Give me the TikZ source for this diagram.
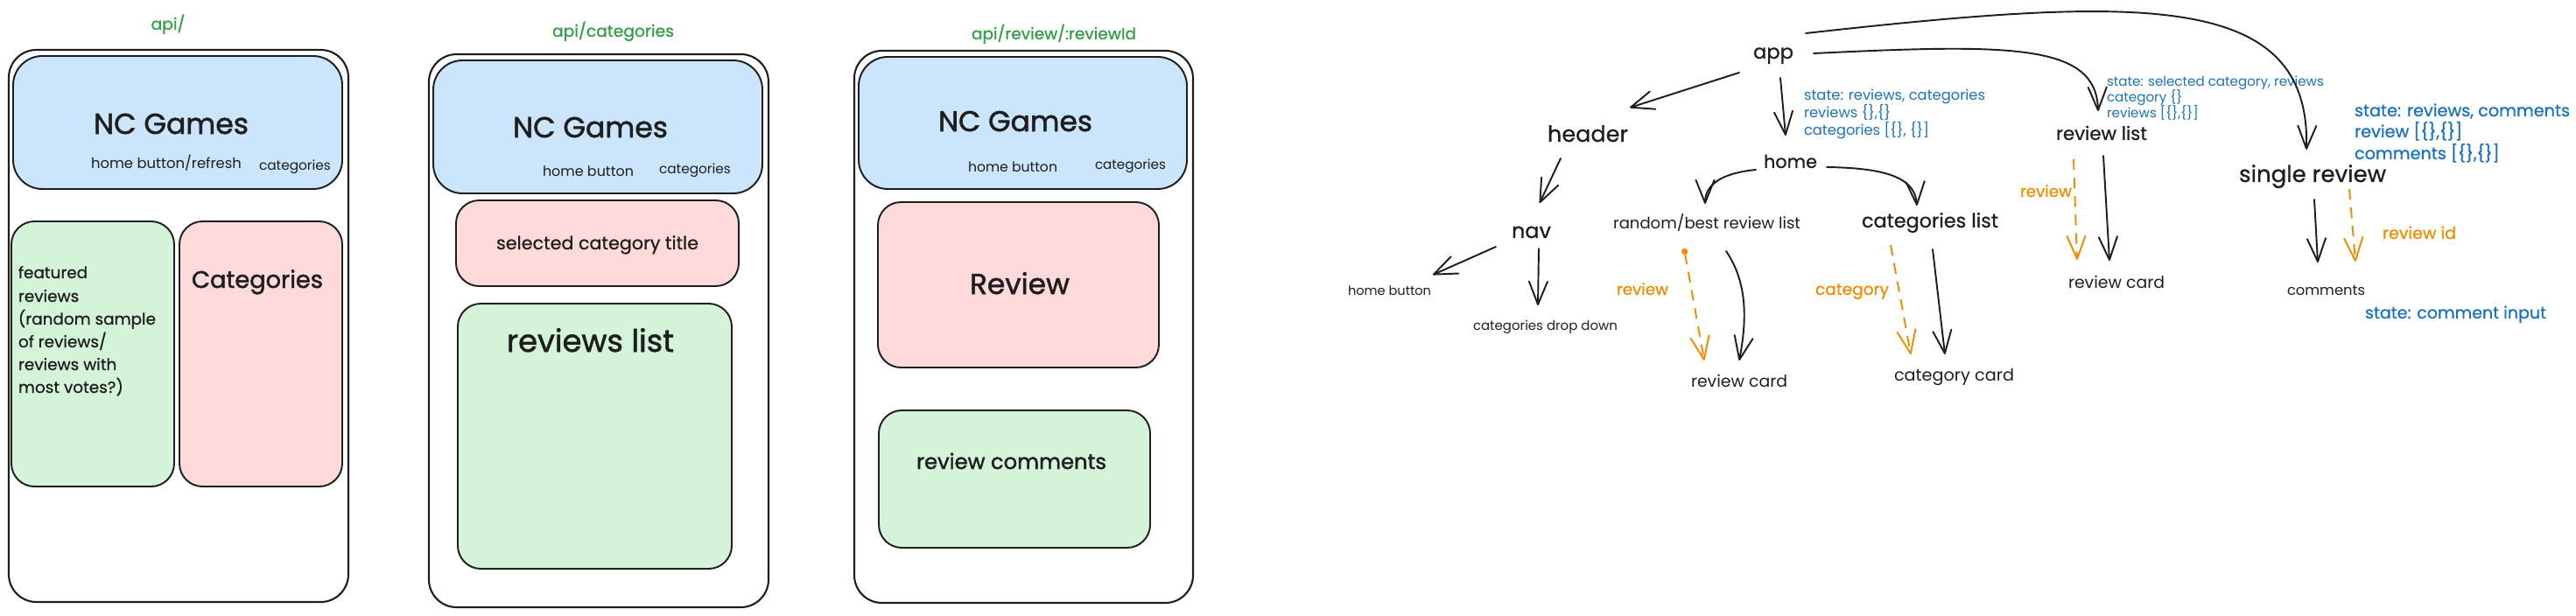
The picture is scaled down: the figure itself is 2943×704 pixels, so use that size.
\documentclass[tikz,border=0pt]{standalone}
\usepackage{fontspec}
\setmainfont{Poppins}
\newfontfamily\heavy[FakeBold=1.6]{Poppins}
\newfontfamily\medw[FakeBold=0.7]{Poppins}
\usetikzlibrary{arrows.meta}
\newlength\px \setlength\px{0.2mm}
\newlength\tmpw
\newcommand\fw[2]{\resizebox{#1\px}{!}{#2}}
% measure a reference line and store in #1 the scale that brings it to #2 px
\newcommand\mksc[3]{\settowidth\tmpw{#3}\pgfmathsetmacro#1{#2*0.569055/\tmpw}}
\definecolor{ink}{HTML}{1E1E1E}
\definecolor{grn}{HTML}{2F9E44}
\definecolor{blu}{HTML}{1971C2}
\definecolor{org}{HTML}{F08C00}
\definecolor{bfill}{HTML}{CBE6FC}
\definecolor{rfill}{HTML}{FFDADA}
\definecolor{gfill}{HTML}{D4F4DA}
\begin{document}
\mksc{\scA}{139}{api/categories}%
\mksc{\scF}{157}{(random sample}%
\mksc{\scB}{207}{state: reviews, categories}%
\mksc{\scC}{248}{state: selected category, reviews}%
\mksc{\scD}{246}{state: reviews, comments}%
\begin{tikzpicture}[x=0.2mm,y=-0.2mm,
  lbl/.style={inner sep=0pt, outer sep=0pt, anchor=base west, text=ink},
  glbl/.style={lbl, text=grn},
  blbl/.style={lbl, text=blu},
  olbl/.style={lbl, text=org},
  frame/.style={draw=ink, line width=1.2pt, rounded corners=18pt},
  bbox/.style={draw=ink, line width=1.1pt, fill=bfill, rounded corners=19pt},
  rbox/.style={draw=ink, line width=1.1pt, fill=rfill, rounded corners=15pt},
  gbox/.style={draw=ink, line width=1.1pt, fill=gfill, rounded corners=15pt},
  arr/.style={draw=ink, line width=1.1pt, line cap=round, -{Straight Barb[round,length=15pt,width=12pt]}},
  oarr/.style={draw=org, line width=1.1pt, dash pattern=on 7pt off 5pt, -{Straight Barb[round,length=15pt,width=12pt]}},
]
\useasboundingbox (0,0) rectangle (2943,704);

% ---------- panel 1 : api/ ----------
\draw[frame] (10,57) rectangle (398,688);
\draw[bbox] (15,64) rectangle (391,216);
\draw[gbox] (13,253) rectangle (199,556);
\draw[rbox] (205,253) rectangle (391,556);
\node[glbl, anchor=base] (api1) at (192,34) {\scalebox{\scA}{\medw api/}};
\node[lbl] (nc1) at (107,153) {\fw{177}{\heavy NC Games}};
\node[lbl] (hb1) at (104,193) {\fw{172}{home button/refresh}};
\node[lbl] (cat1) at (296,195) {\fw{82}{categories}};
\node[lbl] (f1) at (21,318) {\scalebox{\scF}{\medw featured}};
\node[lbl] (f2) at (21,345) {\scalebox{\scF}{\medw reviews}};
\node[lbl] (f3) at (21,371) {\scalebox{\scF}{\medw (random sample}};
\node[lbl] (f4) at (21,397) {\scalebox{\scF}{\medw of reviews/}};
\node[lbl] (f5) at (21,423) {\scalebox{\scF}{\medw reviews with}};
\node[lbl] (f6) at (21,449) {\scalebox{\scF}{\medw most votes?)}};
\node[lbl] (catbig1) at (219,329) {\fw{150}{\heavy Categories}};

% ---------- panel 2 : api/categories ----------
\draw[frame] (490,62) rectangle (878,694);
\draw[bbox] (495,69) rectangle (871,221);
\draw[rbox] (521,229) rectangle (844,327);
\draw[gbox] (523,347) rectangle (836,650);
\node[glbl] (api2) at (631,42) {\fw{139}{\medw api/categories}};
\node[lbl] (nc2) at (586,157) {\fw{177}{\heavy NC Games}};
\node[lbl] (hb2) at (620,202) {\fw{104}{home button}};
\node[lbl] (cat2) at (753,199) {\fw{82}{categories}};
\node[lbl] (sel2) at (567,285) {\fw{231}{\medw selected category title}};
\node[lbl] (rl2) at (579,402) {\fw{191}{\heavy reviews list}};

% ---------- panel 3 : api/review/:reviewId ----------
\draw[frame] (976,58) rectangle (1363,689);
\draw[bbox] (981,65) rectangle (1356,216);
\draw[rbox] (1003,231) rectangle (1324,420);
\draw[gbox] (1004,469) rectangle (1314,626);
\node[glbl] (api3) at (1110,45) {\fw{188}{\medw api/review/:reviewId}};
\node[lbl] (nc3) at (1072,150) {\fw{176}{\heavy NC Games}};
\node[lbl] (hb3) at (1106,197) {\fw{102}{home button}};
\node[lbl] (cat3) at (1251,194) {\fw{81}{categories}};
\node[lbl] (rev3) at (1108,336) {\fw{114}{\heavy Review}};
\node[lbl] (rc3) at (1047,536) {\fw{217}{\heavy review comments}};

% ---------- component tree ----------
\node[lbl] (app) at (2003,67) {\fw{46}{\medw app}};
\node[lbl] (header) at (1768,162) {\fw{92}{\medw header}};
\node[lbl] (home) at (2015,192) {\fw{61}{\medw home}};
\node[lbl] (nav) at (1727,272) {\fw{45}{\medw nav}};
\node[lbl] (rbl) at (1843,262) {\fw{214}{random/best review list}};
\node[lbl] (homebtn) at (1540,337) {\fw{95}{home button}};
\node[lbl] (catdd) at (1683,377) {\fw{165}{categories drop down}};
\node[lbl] (rcard1) at (1932,442) {\fw{110}{review card}};
\node[lbl] (catlist) at (2127,260) {\fw{156}{\medw categories list}};
\node[lbl] (catcard) at (2164,435) {\fw{137}{category card}};
\node[lbl] (revlist) at (2349,160) {\fw{104}{\medw review list}};
\node[lbl] (rcard2) at (2363,330) {\fw{110}{review card}};
\node[lbl] (single) at (2558,208) {\fw{168}{\medw single review}};
\node[lbl] (comments) at (2613,337) {\fw{89}{comments}};

\node[olbl] (or1) at (1847,337) {\fw{59}{\medw review}};
\node[olbl] (or2) at (2074,337) {\fw{84}{\medw category}};
\node[olbl] (or3) at (2308,225) {\fw{59}{\medw review}};
\node[olbl] (or4) at (2722,273) {\fw{84}{\medw review id}};

\node[blbl] (b1a) at (2061,115) {\scalebox{\scB}{state: reviews, categories}};
\node[blbl] (b1b) at (2061,135) {\scalebox{\scB}{reviews \{\},\{\}}};
\node[blbl] (b1c) at (2061,155) {\scalebox{\scB}{categories [\{\}, \{\}]}};
\node[blbl] (b2a) at (2407,99) {\scalebox{\scC}{state: selected category, reviews}};
\node[blbl] (b2b) at (2407,117) {\scalebox{\scC}{category \{\}}};
\node[blbl] (b2c) at (2407,135) {\scalebox{\scC}{reviews [\{\},\{\}]}};
\node[blbl] (b3a) at (2690,133) {\scalebox{\scD}{\medw state: reviews, comments}};
\node[blbl] (b3b) at (2690,157) {\scalebox{\scD}{\medw review [\{\},\{\}]}};
\node[blbl] (b3c) at (2690,182) {\scalebox{\scD}{\medw comments [\{\},\{\}]}};
\node[blbl] (b4) at (2702,364) {\fw{207}{\medw state: comment input}};

% connectors
\draw[arr] ([shift={(-16,16)}]app.base west) -- ([shift={(94,-39)}]header.base west);
\draw[arr] ([shift={(31,22)}]app.base west) -- ([shift={(25,-37)}]home.base west);
\draw[arr] ([shift={(69,-6)}]app.base west) .. controls (2300,50) and (2395,50) .. ([shift={(48,-33)}]revlist.base west);
\draw[arr] ([shift={(60,-29)}]app.base west) .. controls (2450,-5) and (2640,-10) .. ([shift={(77,-37)}]single.base west);
\draw[arr] ([shift={(15,19)}]header.base west) -- ([shift={(32,-40)}]nav.base west);
\draw[arr] ([shift={(-9,2)}]home.base west) .. controls (1965,198) and (1948,212) .. ([shift={(105,-29)}]rbl.base west);
\draw[arr] ([shift={(72,-1)}]home.base west) .. controls (2160,192) and (2188,205) .. ([shift={(63,-25)}]catlist.base west);
\draw[arr] ([shift={(-18,10)}]nav.base west) -- ([shift={(97,-23)}]homebtn.base west);
\draw[arr] ([shift={(31,12)}]nav.base west) -- ([shift={(74,-28)}]catdd.base west);
\draw[arr] ([shift={(129,25)}]rbl.base west) .. controls (1998,325) and (1995,370) .. ([shift={(55,-30)}]rcard1.base west);
\draw[oarr, {Circle[length=4pt]}-{Straight Barb[round,length=15pt,width=12pt]}] ([shift={(81,22)}]rbl.base west) -- ([shift={(15,-30)}]rcard1.base west);
\draw[oarr] ([shift={(33,20)}]catlist.base west) -- ([shift={(19,-30)}]catcard.base west);
\draw[arr] ([shift={(81,25)}]catlist.base west) -- ([shift={(58,-30)}]catcard.base west);
\draw[oarr] ([shift={(20,22)}]revlist.base west) -- ([shift={(10,-33)}]rcard2.base west);
\draw[arr] ([shift={(54,18)}]revlist.base west) -- ([shift={(47,-32)}]rcard2.base west);
\draw[arr] ([shift={(86,20)}]single.base west) -- ([shift={(35,-37)}]comments.base west);
\draw[oarr] ([shift={(126,8)}]single.base west) -- ([shift={(78,-38)}]comments.base west);
\end{tikzpicture}
\end{document}
